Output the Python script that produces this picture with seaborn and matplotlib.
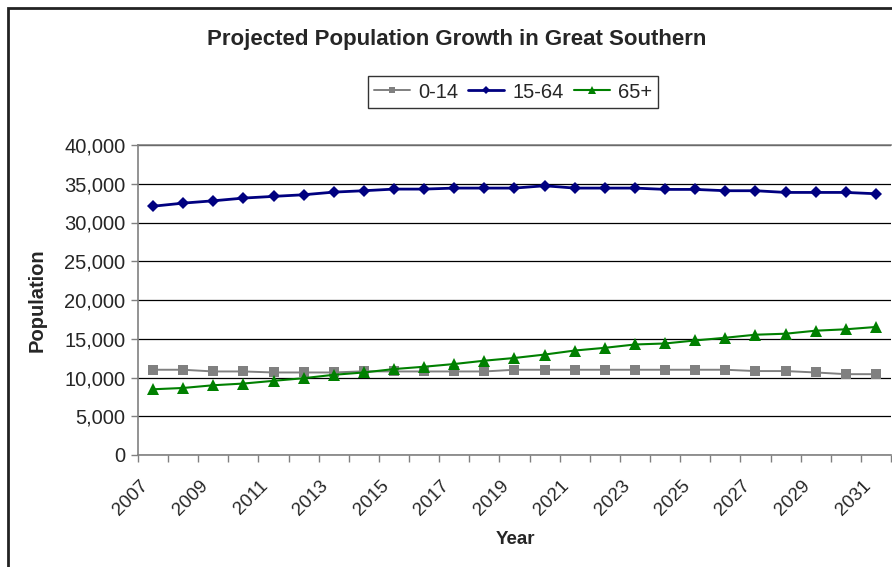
import matplotlib
matplotlib.use('Agg')
import matplotlib.pyplot as plt
import matplotlib.transforms as mtransforms
from matplotlib.patches import Rectangle
from matplotlib.ticker import FuncFormatter
import numpy as np
import pandas as pd
import seaborn as sns

# data
years = list(range(2007, 2032))
age_0_14 = [11000, 11000, 10780, 10780, 10650, 10650, 10650, 10800, 10780, 10780,
            10780, 10780, 11000, 11000, 11000, 11000, 11000, 11000, 11000, 11000,
            10830, 10830, 10650, 10430, 10430]
age_15_64 = [32100, 32500, 32800, 33150, 33370, 33580, 33920, 34100, 34310, 34310,
             34440, 34440, 34440, 34740, 34440, 34440, 34440, 34270, 34270, 34100,
             34100, 33880, 33880, 33880, 33710]
age_65 = [8480, 8650, 9000, 9220, 9570, 9910, 10350, 10650, 11090, 11390,
          11740, 12170, 12520, 12960, 13480, 13830, 14260, 14390, 14780, 15130,
          15520, 15650, 16040, 16220, 16520]
series_names = ['0-14', '15-64', '65+']
y_ticks = list(range(0, 40001, 5000))

df = pd.DataFrame({
    'Year': years * 3,
    'Population': age_0_14 + age_15_64 + age_65,
    'Age': sum([[n] * len(years) for n in series_names], []),
})

sns.set_style('white')
plt.rcParams['font.family'] = ['Liberation Sans', 'DejaVu Sans']

W, H = 892, 567
fig = plt.figure(figsize=(W / 100, H / 100), dpi=100)
ax = fig.add_axes([138 / W, (H - 455) / H, (891 - 138) / W, (455 - 145) / H])

styles = {
    '0-14': dict(color='#808080', marker='s', ms=7, lw=1.4),
    '15-64': dict(color='#000080', marker='D', ms=6.5, lw=2.0),
    '65+': dict(color='#008000', marker='^', ms=8, lw=1.5),
}
for name in series_names:
    st = styles[name]
    sns.lineplot(data=df[df['Age'] == name], x='Year', y='Population', ax=ax,
                 color=st['color'], marker=st['marker'], markersize=st['ms'],
                 markeredgewidth=0, linewidth=st['lw'], label=name, zorder=3)

# axes: excel-like category axis
ax.set_xlim(years[0] - 0.5, years[-1] + 0.5)
ax.set_ylim(0, 40000)
ax.set_yticks(y_ticks)
ax.yaxis.set_major_formatter(FuncFormatter(lambda v, p: f'{int(v):,}'))
ax.yaxis.grid(True, color='black', linewidth=0.9)
ax.set_axisbelow(True)

ax.set_xticks(years[::2])
ax.set_xticklabels([str(y) for y in years[::2]], rotation=45, ha='right',
                   rotation_mode='anchor')
ax.set_xticks(np.arange(years[0] - 0.5, years[-1] + 1.0, 1.0), minor=True)
ax.tick_params(axis='x', which='major', length=0, pad=16, labelsize=13.5)
ax.tick_params(axis='x', which='minor', length=5, width=1, color='#808080',
               direction='out', bottom=True)
ax.tick_params(axis='y', length=5, width=1, color='#808080', direction='out',
               left=True, labelsize=14.5, pad=4)
offset = mtransforms.ScaledTranslation(-14 / 100, 0, fig.dpi_scale_trans)
for lab in ax.get_xticklabels():
    lab.set_transform(lab.get_transform() + offset)

for side in ['left', 'bottom', 'top']:
    ax.spines[side].set_color('#808080')
    ax.spines[side].set_linewidth(1.2)
ax.spines['right'].set_visible(False)

ax.set_xlabel('Year', fontsize=13.5, fontweight='bold')
ax.xaxis.set_label_coords((515 - 138) / (891 - 138), -(531 - 455) / (455 - 145))
ax.set_ylabel('Population', fontsize=14.5, fontweight='bold')
ax.yaxis.set_label_coords(-(138 - 47) / (891 - 138), 0.5)

handles, labels = ax.get_legend_handles_labels()
leg = ax.legend(handles, labels, ncol=3, loc='center',
                bbox_to_anchor=(513 / W, 1 - 92 / H), bbox_transform=fig.transFigure,
                frameon=True, fancybox=False, edgecolor='black', fontsize=14.5,
                handlelength=1.8, handletextpad=0.4, columnspacing=0.5,
                borderpad=0.3, markerscale=0.7)
leg.get_frame().set_linewidth(1.0)

fig.text(457 / W, 1 - 40 / H, 'Projected Population Growth in Great Southern',
         ha='center', va='center', fontsize=16, fontweight='bold')

# chart area border
fig.patches.append(Rectangle((8 / W, -0.1), 1.2, 1.1 - 8 / H, transform=fig.transFigure,
                             fill=False, edgecolor='#222222', linewidth=2))

fig.savefig('out.png', dpi=100)
